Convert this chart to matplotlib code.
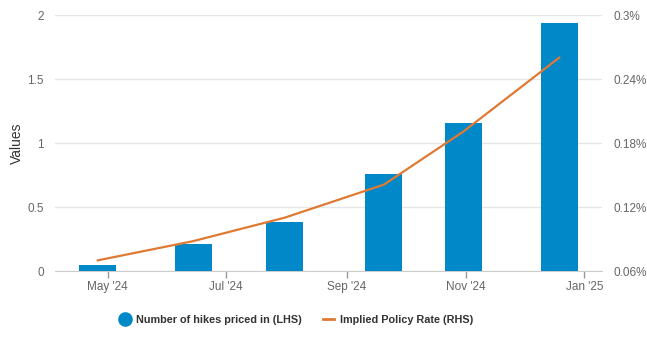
import matplotlib
matplotlib.use("Agg")
import matplotlib.pyplot as plt
from matplotlib.lines import Line2D
import datetime as dt

plt.rcParams['font.family'] = ['Liberation Sans', 'DejaVu Sans']

# Policy meeting dates
meeting_dates = ["2024-04-26", "2024-06-14", "2024-07-31", "2024-09-20", "2024-10-31", "2024-12-19"]
hikes_priced = [0.05, 0.21, 0.38, 0.76, 1.16, 1.94]
implied_rate = [0.070, 0.088, 0.110, 0.141, 0.191, 0.260]

left_ticks = [0, 0.5, 1, 1.5, 2]
left_labels = ["0", "0.5", "1", "1.5", "2"]
right_ticks = [0.06, 0.12, 0.18, 0.24, 0.30]
right_labels = ["0.06%", "0.12%", "0.18%", "0.24%", "0.3%"]
month_ticks = ["2024-05-01", "2024-07-01", "2024-09-01", "2024-11-01", "2025-01-01"]
month_labels = ["May '24", "Jul '24", "Sep '24", "Nov '24", "Jan '25"]

bar_color = "#0088c8"
line_color = "#e07a33"
text_gray = "#666666"

dates = [dt.datetime.strptime(d, "%Y-%m-%d") for d in meeting_dates]
xt = [dt.datetime.strptime(d, "%Y-%m-%d") for d in month_ticks]

fig = plt.figure(figsize=(6.47, 3.41), dpi=100)
ax = fig.add_axes([55/647, 1-271/341, (602-55)/647, (271-15)/341])
ax2 = ax.twinx()

ax.bar(dates, hikes_priced, width=19, color=bar_color, zorder=3)
ax2.plot(dates, implied_rate, color=line_color, lw=1.6, zorder=4)

ax.set_xlim(dt.datetime(2024, 4, 4), dt.datetime(2025, 1, 10))
ax.set_ylim(0, 2)
ax2.set_ylim(0.06, 0.30)

ax.set_yticks(left_ticks)
ax.set_yticklabels(left_labels)
ax2.set_yticks(right_ticks)
ax2.set_yticklabels(right_labels)
ax.set_xticks(xt)
ax.set_xticklabels(month_labels)

ax.grid(axis='y', color='#e6e6e6', lw=1, zorder=0)
ax.set_axisbelow(True)
for a in (ax, ax2):
    for s in a.spines.values():
        s.set_visible(False)
ax.spines['bottom'].set_visible(True)
ax.spines['bottom'].set_color('#cccccc')

ax.tick_params(axis='y', length=0, pad=8, labelsize=8.5, labelcolor=text_gray)
ax2.tick_params(axis='y', length=0, pad=8, labelsize=8.5, labelcolor=text_gray)
ax.tick_params(axis='x', length=5, width=1, color='#999999', pad=2, labelsize=8.5, labelcolor=text_gray)

fig.text(17/647, 1-143/341, "Values", rotation=90, fontsize=10, color="#333333",
         ha='center', va='center')

ax2.set_zorder(ax.get_zorder() + 1)
ax2.patch.set_visible(False)

handles = [
    Line2D([], [], marker='o', ls='none', markersize=9.5, color=bar_color),
    Line2D([], [], color=line_color, lw=2),
]
fig.legend(handles, ["Number of hikes priced in (LHS)", "Implied Policy Rate (RHS)"],
           loc='center', bbox_to_anchor=(296/647, 1-320/341), ncol=2, frameon=False,
           prop={'weight': 'bold', 'size': 7.8}, labelcolor='#333333',
           handlelength=1.1, columnspacing=1.9, handletextpad=0.5)

fig.savefig("out.png", dpi=100)
